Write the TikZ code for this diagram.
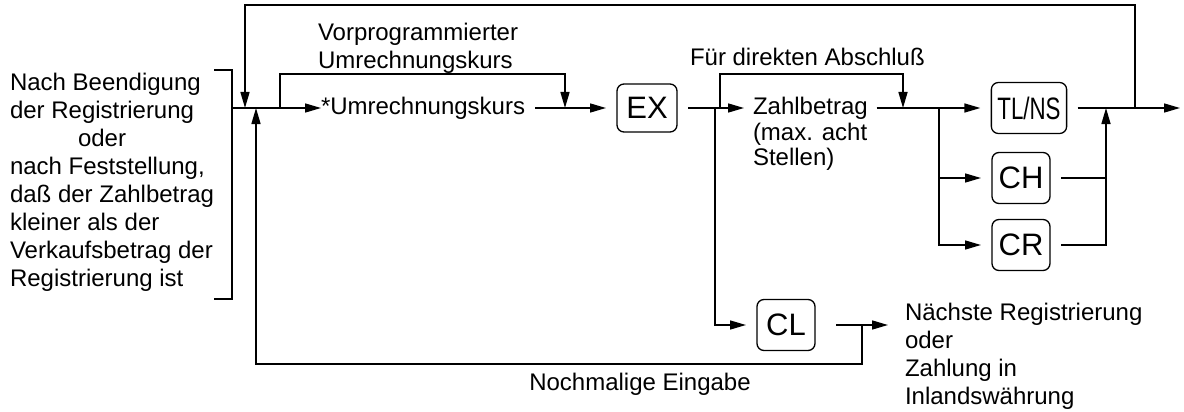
\documentclass[tikz,border=0pt]{standalone}
\usepackage{fontspec}
\setmainfont{Liberation Sans}
\usetikzlibrary{arrows.meta,calc}
\tikzset{
  flow/.style={line width=1.5pt,-{Triangle[length=16pt,width=9pt]}},
  wire/.style={line width=1.5pt},
  key/.style={draw,line width=1.3pt,rounded corners=7pt,minimum width=58pt,minimum height=51pt,inner sep=6pt,outer sep=11pt,font=\fontsize{31}{32}\selectfont},
  txt/.style={inner sep=0pt,outer sep=0pt,align=left,font=\fontsize{24}{28}\selectfont}
}

\begin{document}
\begin{tikzpicture}[x=1pt,y=-1pt]
\useasboundingbox (0,0) rectangle (1184,412);
% start condition and bracket
\node[txt,anchor=north west] (cond) at (10,73) {Nach Beendigung\\der Registrierung\\\hspace*{68pt}oder\\nach Feststellung,\\daß der Zahlbetrag\\kleiner als der\\Verkaufsbetrag der\\Registrierung ist};
\draw[wire] (214,70) -| (232,299) -- (214,299);
\coordinate (j0) at (232,108);
\coordinate (inTop) at (245,108);
\coordinate (inBot) at (256,108);
\coordinate (jV) at (280,108);
\coordinate (inV) at (565,108);
% exchange rate
\node[txt,anchor=west] (kurs) at (321,108) {*Umrechnungskurs};
\node[txt,anchor=north west] (vor) at (318,23) {Vorprogrammierter\\Umrechnungskurs};
\node[key,minimum width=60pt,minimum height=48pt] (ex) at (647,108) {EX};
\draw[flow] (j0) -- (kurs);
\draw[flow,shorten <=10pt] (kurs) -- (ex);
\draw[flow] (jV) -- ++(0,-34) -| (inV);
% amount
\node[txt,anchor=west,outer sep=9pt] (zahl) at (744,108) {Zahlbetrag};
\node[txt,anchor=north west,font=\fontsize{24}{25.5}\selectfont] (zahlnote) at (753,123) {(max. acht\\Stellen)};
\node[txt,anchor=base west] (fuer) at (690,65.5) {Für direkten Abschluß};
\coordinate (jC) at (715,108);
\coordinate (jF) at (720,108);
\coordinate (inF) at (903,108);
\draw[flow] (ex) -- (zahl);
\draw[flow] (jF) -- ++(0,-34) -| (inF);
\node[key] (cl) at (786,325) {CL};
\draw[flow] (jC) |- (cl);
% payment keys
\node[key] (tlns) at (1029,108) {\scalebox{0.72}[1]{TL/NS}};
\coordinate (jT) at (939,108);
\draw[flow] (zahl) -- (tlns);
\foreach \nm/\tx/\yy in {ch/CH/178,cr/CR/245}{
  \node[key] (\nm) at (1021,\yy) {\tx};
  \draw[flow] (jT) |- (\nm);
}
\coordinate (inR) at (1106,108);
\coordinate (jR) at (1135,108);
\coordinate (out) at (1180,108);
\draw[flow] (tlns) -- (out);
\draw[wire] (ch) -- (ch -| inR);
\draw[flow] (cr) -| (inR);
\draw[flow] (jR) -- ++(0,-103) -| (inTop);
% after CL
\node[txt,anchor=north west] (naech) at (905,303) {Nächste Registrierung\\oder\\Zahlung in\\Inlandswährung};
\coordinate (jN) at (862,325);
\draw[flow,shorten <=10pt,shorten >=17pt] (cl) -- (cl -| naech.west);
\draw[flow] (jN) -- ++(0,39) -| (inBot);
\node[txt] (noch) at (640,384) {Nochmalige Eingabe};
\end{tikzpicture}
\end{document}
